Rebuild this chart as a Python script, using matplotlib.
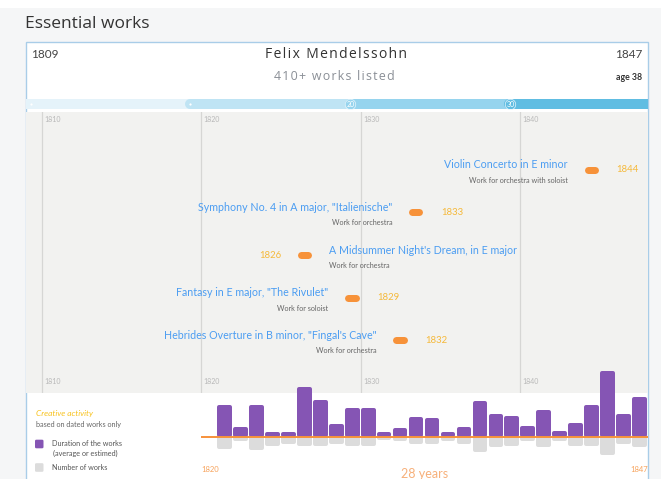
import matplotlib
matplotlib.use("Agg")
import matplotlib.pyplot as plt
from matplotlib.patches import Rectangle, FancyBboxPatch
import numpy as np

plt.rcParams['font.family'] = ['Lato', 'DejaVu Sans']

# ---------------- data ----------------
composer = "Felix Mendelssohn"
birth_year = 1809
death_year = 1847
works_listed = "410+ works listed"

age_marks = [0, 10, 20, 30]
age_mark_labels = ["", "", "20", "30"]

decades = [1810, 1820, 1830, 1840]

work_titles = [
    "Violin Concerto in E minor",
    "Symphony No. 4 in A major, \"Italienische\"",
    "A Midsummer Night's Dream, in E major",
    "Fantasy in E major, \"The Rivulet\"",
    "Hebrides Overture in B minor, \"Fingal's Cave\"",
]
work_years = [1844, 1833, 1826, 1829, 1832]
work_genres = [
    "Work for orchestra with soloist",
    "Work for orchestra",
    "Work for orchestra",
    "Work for soloist",
    "Work for orchestra",
]

activity_years = list(range(1821, 1848))
duration = [32, 10, 32, 5, 3, 50, 37, 13, 29, 29, 3, 9, 20,
            19, 5, 10, 36, 23, 21, 11, 27, 6, 14, 32, 66, 23, 40]
n_works = [8, 3, 9, 6, 5, 6, 6, 5, 6, 6, 2, 3, 5,
           5, 3, 5, 10, 7, 6, 3, 7, 3, 6, 6, 12, 5, 7]
activity_start = 1820

# ---------------- layout helpers ----------------
W, H = 661, 479
fig = plt.figure(figsize=(W / 100, H / 100), dpi=100)
fig.patch.set_facecolor("white")

def fx(x):
    return x / W

def fy(y):
    return 1 - y / H

def px2pt(p):
    return p * 0.72

def spaced(s):
    return "\u200a".join(s)

def add_ax(x0, y0, x1, y1, **kw):
    return fig.add_axes([fx(x0), fy(y1), (x1 - x0) / W, (y1 - y0) / H], **kw)

HEAD_FONT = ['Open Sans', 'DejaVu Sans']

# page background and card
fig.patches.append(Rectangle((0, 0), 1, fy(8), transform=fig.transFigure,
                             facecolor="#f5f6f7", edgecolor="none", zorder=-10))
CX0, CX1, CY0 = 26, 648, 41.7
fig.patches.append(Rectangle((fx(CX0), fy(H + 5)), (CX1 - CX0) / W, (H + 5 - CY0) / H,
                             transform=fig.transFigure, facecolor="white",
                             edgecolor="#a9cde8", linewidth=1.0, zorder=-9))

fig.text(fx(25), fy(24), "Essential works", fontsize=12.5, color="#333333",
         ha="left", va="center", family=HEAD_FONT)

# header texts
fig.text(fx(31.5), fy(55), str(birth_year), fontsize=8.5, color="#444444",
         ha="left", va="center")
fig.text(fx(642.5), fy(55), str(death_year), fontsize=8.5, color="#444444",
         ha="right", va="center")
fig.text(fx(336), fy(54), spaced(composer), fontsize=10.0, color="#333333",
         ha="center", va="center", family=HEAD_FONT)
fig.text(fx(334), fy(76), spaced(works_listed), fontsize=8.9, color="#8a8f96",
         ha="center", va="center", family=HEAD_FONT)
fig.text(fx(642.5), fy(77), "age %d" % (death_year - birth_year), fontsize=6.3,
         color="#333333", ha="right", va="center", fontweight="bold")

XMIN, XMAX = birth_year, death_year + 1
PX_PER_YEAR = (CX1 - CX0) / (XMAX - XMIN)

# ---------------- age bar ----------------
ax_age = add_ax(CX0, 99, CX1, 109)
ax_age.set_xlim(XMIN, XMAX)
ax_age.set_ylim(-1, 1)
ax_age.axis("off")
seg_colors = ["#e5f3fa", "#bfe4f4", "#96d4ee", "#60bde2"]
r_y = 5 / PX_PER_YEAR
for a, lab, c in zip(age_marks, age_mark_labels, seg_colors):
    x0 = birth_year + a
    start = x0 if a == 0 else x0 + r_y
    ax_age.plot([start, XMAX + 2], [0, 0], color=c, lw=px2pt(10),
                solid_capstyle="round", zorder=2 + a)
    if lab:
        ax_age.plot([x0 + 5.5 / PX_PER_YEAR], [0], marker="o", ms=px2pt(10.5),
                    mfc="none", mec="#e8f6fc", mew=0.5, zorder=50)
        ax_age.text(x0 + 6.2 / PX_PER_YEAR, -0.05, lab, fontsize=5.0, color="white",
                    ha="center", va="center", zorder=51)
    else:
        ax_age.plot([x0 + 5 / PX_PER_YEAR], [0], marker="o", ms=1.6,
                    color="white", mec="none", zorder=50)

# ---------------- timeline panel ----------------
PY0, PY1 = 112, 393
ROW0, ROWSTEP = 169.7, 42.65
ax_tl = add_ax(CX0, PY0, CX1, PY1)
ax_tl.set_facecolor("#f2f2f0")
ax_tl.set_xlim(XMIN, XMAX)
ax_tl.set_ylim((PY1 - ROW0) / ROWSTEP, -(ROW0 - PY0) / ROWSTEP)
for s in ax_tl.spines.values():
    s.set_visible(False)
ax_tl.set_xticks([])
ax_tl.set_yticks([])
for d in decades:
    ax_tl.axvline(d, color="#d6d6d4", lw=0.9, zorder=1)
    for yy in [1 - (119.5 - PY0) / (PY1 - PY0), 1 - (381.7 - PY0) / (PY1 - PY0)]:
        ax_tl.annotate(str(d), xy=(d, yy), xycoords=ax_tl.get_xaxis_transform(),
                       xytext=(1.6, 0), textcoords="offset points",
                       fontsize=5, color="#b8b8b8", ha="left", va="center")

flip_right = {"A Midsummer Night's Dream, in E major"}
for i, (t, yv, g) in enumerate(zip(work_titles, work_years, work_genres)):
    r = 3.5 / PX_PER_YEAR
    ax_tl.plot([yv + r, yv + 14.2 / PX_PER_YEAR - r], [i, i], color="#f79239",
               lw=px2pt(7), solid_capstyle="round", zorder=5)
    if t in flip_right:
        ax_tl.annotate(str(yv), xy=(yv, i), xytext=(px2pt(-16), 0),
                       textcoords="offset points", ha="right", va="center",
                       fontsize=6.9, color="#f5b93a")
        tx, ha = px2pt(32), "left"
    else:
        ax_tl.annotate(str(yv), xy=(yv, i), xytext=(px2pt(32), 0),
                       textcoords="offset points", ha="left", va="center",
                       fontsize=6.9, color="#f5b93a")
        tx, ha = px2pt(-16.5), "right"
    ax_tl.annotate(t, xy=(yv, i), xytext=(tx, px2pt(4.8)),
                   textcoords="offset points", ha=ha, va="center",
                   fontsize=7.7, color="#4b9df2")
    ax_tl.annotate(g, xy=(yv, i), xytext=(tx, px2pt(-10.6)),
                   textcoords="offset points", ha=ha, va="center",
                   fontsize=5.2, color="#666666")

# ---------------- activity bars ----------------
BY0, BY1, BASE = 360, 479, 436.7
ax_b = add_ax(CX0, BY0, CX1, BY1)
ax_b.patch.set_alpha(0)
ax_b.set_xlim(XMIN, XMAX)
ax_b.set_ylim(-(BY1 - BASE), BASE - BY0)
ax_b.axis("off")
ax_g = ax_b.twinx()
ax_g.patch.set_alpha(0)
GRAY_SCALE = 1.5
ax_g.set_ylim(-(BY1 - BASE) / GRAY_SCALE, (BASE - BY0) / GRAY_SCALE)
ax_g.axis("off")
ax_g.set_zorder(5)
ax_b.set_zorder(6)

edge_px = 4
bw = 14.6 / PX_PER_YEAR
inner_w = bw - edge_px / PX_PER_YEAR
xs = np.array(activity_years) + bw / 2
ep = edge_px / 2
ax_g.bar(xs, [-max(n * GRAY_SCALE - ep, 0.3) / GRAY_SCALE for n in n_works],
         bottom=0, width=inner_w, color="#dcdcdc", edgecolor="#dcdcdc",
         linewidth=px2pt(edge_px), joinstyle="round")
ax_b.bar(xs, [max(d - 2 * ep, 0.3) for d in duration], bottom=ep, width=inner_w,
         color="#8555b4", edgecolor="#8555b4", linewidth=px2pt(edge_px),
         joinstyle="round", zorder=3)
ax_b.plot([activity_start, XMAX], [0, 0], color="#f7923a", lw=1.4, zorder=4,
          solid_capstyle="butt")

fig.text(fx(201), fy(470), str(activity_start), fontsize=5.5, color="#f7a35c",
         ha="left", va="center")
fig.text(fx(648), fy(469.5), str(activity_years[-1]), fontsize=5.5, color="#f7a35c",
         ha="right", va="center")
fig.text(fx(424.5), fy(474), "%d years" % (activity_years[-1] - activity_start + 1),
         fontsize=9, color="#f7b07a", ha="center", va="center")

# legend
fig.text(fx(35.5), fy(413.5), "Creative activity", fontsize=6.0, color="#f8c21c",
         style="italic", ha="left", va="center")
fig.text(fx(35.5), fy(424), "based on dated works only", fontsize=5.2,
         color="#666666", ha="left", va="center")
for yc, col in [(444, "#8555b4"), (467.5, "#dcdcdc")]:
    fig.patches.append(FancyBboxPatch((fx(36.5), fy(yc + 3)), 5.5 / W, 6 / H,
                                      boxstyle="round,pad=0.001",
                                      transform=fig.transFigure, facecolor=col,
                                      edgecolor=col, linewidth=1.2, zorder=3))
fig.text(fx(51.7), fy(443.5), "Duration of the works", fontsize=5.2,
         color="#555555", ha="left", va="center")
fig.text(fx(52.7), fy(453.5), "(average or estimed)", fontsize=5.2,
         color="#555555", ha="left", va="center")
fig.text(fx(51.7), fy(467.5), "Number of works", fontsize=5.2,
         color="#555555", ha="left", va="center")

fig.savefig("out.png", dpi=100, facecolor=fig.get_facecolor())
